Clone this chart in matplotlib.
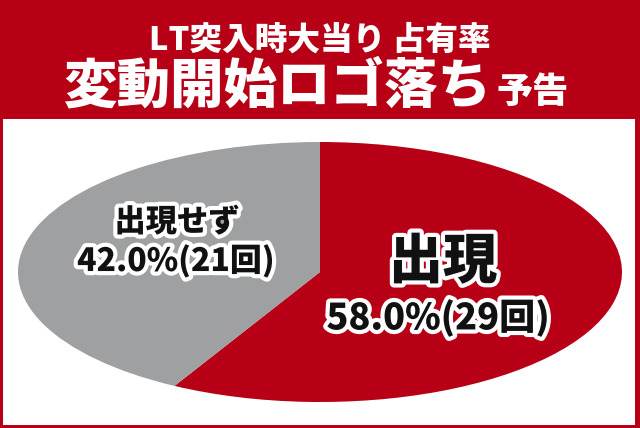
import matplotlib
matplotlib.use("Agg")
import matplotlib.pyplot as plt
import matplotlib.patheffects as pe
from matplotlib.patches import Rectangle

plt.rcParams['font.family'] = ['Noto Sans CJK JP', 'DejaVu Sans']

# ---- data ----
title_line1 = "LT突入時大当り 占有率"
title_line2 = "変動開始ロゴ落ち"
title_suffix = "予告"
categories = ["出現", "出現せず"]
percentages = [58.0, 42.0]
counts = [29, 21]
colors = ["#B70016", "#9FA0A2"]

W, H = 640, 428
fig = plt.figure(figsize=(W / 100, H / 100), dpi=100)
fig.patch.set_facecolor("#B70016")

# white panel
fig.add_artist(Rectangle((3 / W, 1 - 425 / H), 632 / W, 306 / H,
                         transform=fig.transFigure, facecolor="white",
                         edgecolor="none", zorder=0))

# header text
fig.text(320 / W, 1 - 40 / H, title_line1, ha="center", va="center",
         color="white", fontsize=23.5, fontweight=900)
fig.text(491 / W, 1 - 103 / H, title_line2, ha="right", va="baseline",
         color="white", fontsize=38.5, fontweight=900)
fig.text(497 / W, 1 - 103 / H, title_suffix, ha="left", va="baseline",
         color="white", fontsize=26, fontweight=900)

# elliptical pie
ax = fig.add_axes([18 / W, 1 - 402 / H, 604 / W, 260 / H])
ax.pie(percentages, colors=colors, startangle=90, counterclock=False,
       radius=1, wedgeprops=dict(linewidth=0))
ax.set_aspect("auto")
ax.set_xlim(-1, 1)
ax.set_ylim(-1, 1)
ax.axis("off")

stroke = [pe.withStroke(linewidth=6, foreground="white")]

# label for 出現
fig.text(443 / W, 1 - 262 / H, categories[0], ha="center", va="center",
         fontsize=39, fontweight=900, color="#111111", path_effects=stroke)
fig.text(438 / W, 1 - 318 / H, f"{percentages[0]:.1f}%({counts[0]}回)",
         ha="center", va="center", fontsize=26, fontweight=900,
         color="#111111", path_effects=stroke)

# label for 出現せず
fig.text(177 / W, 1 - 222 / H, categories[1], ha="center", va="center",
         fontsize=22.5, fontweight=900, color="#111111", path_effects=stroke)
fig.text(176 / W, 1 - 261 / H, f"{percentages[1]:.1f}%({counts[1]}回)",
         ha="center", va="center", fontsize=23, fontweight=900,
         color="#111111", path_effects=stroke)

fig.savefig("out.png", dpi=100, facecolor=fig.get_facecolor())
